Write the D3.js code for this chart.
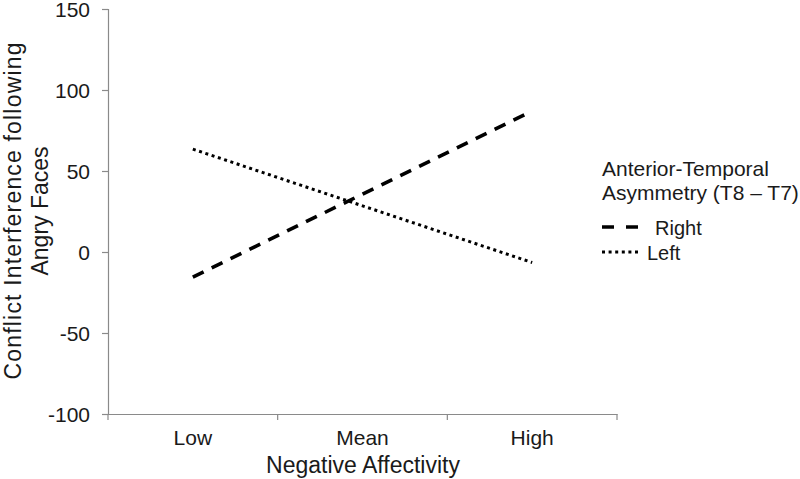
<!DOCTYPE html>
<html>
<head>
<meta charset="utf-8">
<script src="https://cdn.jsdelivr.net/npm/d3@7"></script>
<style>
  body { margin: 0; background: #fff; }
  svg text { font-family: "Liberation Sans", Arial, sans-serif; fill: #1a1a1a; }
</style>
</head>
<body>
<svg id="chart" width="800" height="479"></svg>
<script>
// categories of negative affectivity
var categories = ["Low", "Mean", "High"];
// simple slopes (Low and High ends)
var slopeCats = ["Low", "High"];
var rightValues = [-15.5, 87];
var leftValues = [63.5, -6.5];
var seriesNames = ["Right", "Left"];
var yTicks = [-100, -50, 0, 50, 100, 150];

var svg = d3.select("#chart");

var x = d3.scaleBand()
    .domain(categories)
    .range([108, 617]);
var y = d3.scaleLinear()
    .domain([-100, 150])
    .range([414, 9]);

// y axis (plain hyphen for negatives, like the original)
var yAxis = svg.append("g")
    .attr("transform", "translate(108,0)")
    .call(d3.axisLeft(y).tickValues(yTicks).tickSize(6).tickPadding(12)
        .tickFormat(function(d) { return String(d); }));
yAxis.selectAll("text").style("font-size", "21px").attr("dy", "0.36em");

// x axis, ticks between categories
var xAxis = svg.append("g")
    .attr("transform", "translate(0,414)")
    .call(d3.axisBottom(x).tickSize(0).tickPadding(16));
xAxis.selectAll("text").style("font-size", "21px");
xAxis.selectAll(".edge")
    .data(categories.concat(["end"]))
    .enter().append("line")
    .attr("x1", function(d, i) { return i < categories.length ? x(d) : x.range()[1]; })
    .attr("x2", function(d, i) { return i < categories.length ? x(d) : x.range()[1]; })
    .attr("y1", 0).attr("y2", 6);

svg.selectAll(".domain, .tick line, g line").attr("stroke", "#8a8a8a").attr("stroke-width", 1.2);

// lines
var line = d3.line()
    .x(function(d) { return x(d.c) + x.bandwidth() / 2; })
    .y(function(d) { return y(d.v); });

function pts(vals) {
    return vals.map(function(v, i) { return { c: slopeCats[i], v: v }; });
}

svg.append("path")
    .datum(pts(rightValues))
    .attr("d", line)
    .attr("fill", "none")
    .attr("stroke", "#000")
    .attr("stroke-width", 3.6)
    .attr("stroke-dasharray", "12,9");

svg.append("path")
    .datum(pts(leftValues))
    .attr("d", line)
    .attr("fill", "none")
    .attr("stroke", "#000")
    .attr("stroke-width", 3)
    .attr("stroke-dasharray", "3,3.6");

// axis titles
svg.append("text")
    .attr("x", 363).attr("y", 473)
    .attr("text-anchor", "middle")
    .style("font-size", "23px")
    .text("Negative Affectivity");

var yt = svg.append("text")
    .attr("transform", "translate(21,211) rotate(-90)")
    .attr("text-anchor", "middle")
    .style("font-size", "23px");
yt.append("tspan").attr("x", 0).attr("y", 0).attr("textLength", 337).text("Conflict Interference following");
yt.append("tspan").attr("x", 0).attr("y", 27).text("Angry Faces");

// legend
var lg = svg.append("g").attr("transform", "translate(602,0)");
lg.append("text").attr("x", 0).attr("y", 176).style("font-size", "21px").text("Anterior-Temporal");
lg.append("text").attr("x", 0).attr("y", 200).style("font-size", "21px").text("Asymmetry (T8 \u2013 T7)");

var legendRows = [
    { name: seriesNames[0], y: 227, dash: "12,12", w: 3.6, tx: 53 },
    { name: seriesNames[1], y: 252, dash: "3,3.6", w: 3, tx: 45 }
];
legendRows.forEach(function(r) {
    lg.append("line")
        .attr("x1", 0).attr("x2", 38)
        .attr("y1", r.y).attr("y2", r.y)
        .attr("stroke", "#000")
        .attr("stroke-width", r.w)
        .attr("stroke-dasharray", r.dash);
    lg.append("text")
        .attr("x", r.tx).attr("y", r.y + 8)
        .style("font-size", "20px")
        .text(r.name);
});
</script>
</body>
</html>
